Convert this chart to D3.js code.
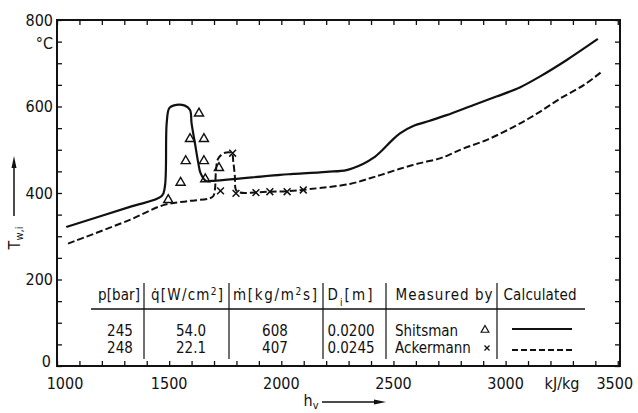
<!DOCTYPE html>
<html>
<head>
<meta charset="utf-8">
<script src="https://cdn.jsdelivr.net/npm/d3@7"></script>
<style>
  html, body { margin: 0; padding: 0; background: #fff; }
  svg { display: block; }
  text { font-family: "Liberation Sans Narrow", "DejaVu Sans Condensed", "Liberation Sans", sans-serif; fill: #111; }
</style>
</head>
<body>
<svg id="chart" width="638" height="413"></svg>
<script>
// Calculated inner wall temperature, Shitsman conditions (solid line)
const solidHv = [1045, 1325, 1467, 1481, 1489, 1500, 1518, 1570, 1593, 1600, 1615, 1630, 1640, 1664, 1689, 1994, 2053, 2202, 2291, 2364, 2410, 2450, 2490, 2529, 2588, 2662, 2737, 2855, 2959, 3063, 3152, 3271, 3408];
const solidT  = [ 322,  368,  393,  415,  561,  596,  602,  602,  592,  561,  515,  469,  446,  428,  428,  442,  444,  449,  453,  467,  481,  499,  520,  538,  555,  567,  580,  603,  623,  644,  669,  707,  755];

// Calculated inner wall temperature, Ackermann conditions (dashed line)
const dashedHv = [1049, 1325, 1474, 1580, 1682, 1697, 1704, 1709, 1719, 1749, 1779, 1786, 1793, 1798, 1816, 1882, 1949, 2026, 2127, 2306, 2395, 2445, 2529, 2618, 2707, 2760, 2812, 2917, 3036, 3141, 3245, 3350, 3432];
const dashedT  = [ 283,  338,  372,  381,  388,  393,  407,  453,  480,  493,  492,  472,  438,  407,  401,  401,  403,  404,  409,  421,  434,  442,  456,  469,  480,  491,  503,  523,  553,  584,  619,  650,  682];

// Measurements
const shitsmanHv = [1496, 1551, 1574, 1593, 1633, 1655, 1655, 1661, 1722];
const shitsmanT  = [ 384,  424,  474,  525,  584,  525,  474,  432,  458];
const ackermannHv = [1729, 1783, 1798, 1887, 1949, 2026, 2098];
const ackermannT  = [ 405,  492,  399,  401,  403,  403,  407];

// Axis ticks
const xTickLabels = [1000, 1500, 2000, 2500, 3000, 3500];
const yTickLabels = [0, 200, 400, 600, 800];

// Table of test conditions
const pressure   = ["245", "248"];
const heatFlux   = ["54.0", "22.1"];
const massFlux   = ["608", "407"];
const diameter   = ["0.0200", "0.0245"];
const measuredBy = ["Shitsman", "Ackermann"];

const svg = d3.select("#chart");
const ink = "#111";

const x = d3.scaleLinear().domain([1000, 3510]).range([57, 620]);
const y = d3.scaleLinear().domain([0, 800]).range([366, 20]);

// ---- frame and inward ticks ----
const tickStyle = g => {
  g.select(".domain").remove();
  g.selectAll(".tick line").attr("stroke", ink).attr("stroke-width", 1.3);
  g.selectAll(".tick text").remove();
};
const xMinor = d3.range(1000, 3501, 100);
const yMinor = d3.range(0, 801, 50);

svg.append("g").attr("transform", `translate(0,${y(0)})`)
  .call(d3.axisBottom(x).tickValues(xMinor).tickSize(-5)).call(tickStyle);
svg.append("g").attr("transform", `translate(0,${y(800)})`)
  .call(d3.axisTop(x).tickValues(xMinor).tickSize(-5)).call(tickStyle);
svg.append("g").attr("transform", `translate(${x(1000)},0)`)
  .call(d3.axisLeft(y).tickValues(yMinor).tickSize(-5)).call(tickStyle);
svg.append("g").attr("transform", `translate(${x(3510)},0)`)
  .call(d3.axisRight(y).tickValues(yMinor).tickSize(-5)).call(tickStyle);

svg.append("rect")
  .attr("x", x(1000)).attr("y", y(800))
  .attr("width", x(3510) - x(1000)).attr("height", y(0) - y(800))
  .attr("fill", "none").attr("stroke", ink).attr("stroke-width", 2);

// ---- tick labels ----
svg.append("g").selectAll("text").data(xTickLabels).join("text")
  .attr("x", (d, i) => x(d) + (i === 0 ? 8 : (d === 3500 ? -3 : 0)))
  .attr("y", 389)
  .attr("text-anchor", "middle")
  .attr("font-size", 16)
  .text(d => d);

svg.append("g").selectAll("text").data(yTickLabels).join("text")
  .attr("x", d => d === 0 ? 51 : 53)
  .attr("y", d => y(d) - (d === 0 ? 5 : 0))
  .attr("dy", "0.36em")
  .attr("text-anchor", "end")
  .attr("font-size", 16)
  .text(d => d);

svg.append("text").attr("x", 53).attr("y", 49).attr("text-anchor", "end")
  .attr("font-size", 16).text("°C");
svg.append("text").attr("x", 562).attr("y", 389).attr("text-anchor", "middle")
  .attr("font-size", 16).text("kJ/kg");

// ---- axis titles with arrows ----
const yTitle = svg.append("text")
  .attr("transform", "translate(20,238) rotate(-90)")
  .attr("text-anchor", "middle").attr("font-size", 16);
yTitle.append("tspan").text("T");
yTitle.append("tspan").attr("font-size", 11).attr("dy", 3).text("w,i");
svg.append("line").attr("x1", 14).attr("y1", 216).attr("x2", 14).attr("y2", 164)
  .attr("stroke", ink).attr("stroke-width", 1.5);
svg.append("path").attr("d", "M14,156 L11.5,168 L16.5,168 Z").attr("fill", ink);

const xTitle = svg.append("text").attr("x", 311).attr("y", 406)
  .attr("text-anchor", "middle").attr("font-size", 16);
xTitle.append("tspan").text("h");
xTitle.append("tspan").attr("font-size", 11).attr("dy", 3).text("v");
svg.append("line").attr("x1", 322).attr("y1", 402).attr("x2", 378).attr("y2", 402)
  .attr("stroke", ink).attr("stroke-width", 1.5);
svg.append("path").attr("d", "M386,402 L374,399.5 L374,404.5 Z").attr("fill", ink);

// ---- curves ----
const lineGen = d3.line()
  .x(d => x(d[0])).y(d => y(d[1]))
  .curve(d3.curveCatmullRom.alpha(0.5));

svg.append("path")
  .attr("d", lineGen(d3.zip(solidHv, solidT)))
  .attr("fill", "none").attr("stroke", ink).attr("stroke-width", 2.2)
  .attr("stroke-linejoin", "round").attr("stroke-linecap", "round");

svg.append("path")
  .attr("d", lineGen(d3.zip(dashedHv, dashedT)))
  .attr("fill", "none").attr("stroke", ink).attr("stroke-width", 2)
  .attr("stroke-dasharray", "7,3");

// ---- measured points ----
const tri = d3.symbol(d3.symbolTriangle, 36);
const cross = d3.symbol(d3.symbolTimes, 32);

svg.append("g").selectAll("path").data(d3.zip(shitsmanHv, shitsmanT)).join("path")
  .attr("transform", d => `translate(${x(d[0])},${y(d[1])})`)
  .attr("d", tri).attr("fill", "none").attr("stroke", ink).attr("stroke-width", 1.4);

svg.append("g").selectAll("path").data(d3.zip(ackermannHv, ackermannT)).join("path")
  .attr("transform", d => `translate(${x(d[0])},${y(d[1])})`)
  .attr("d", cross).attr("fill", "none").attr("stroke", ink).attr("stroke-width", 1.5);

// ---- conditions table ----
const table = svg.append("g");
const headY = 300, row1Y = 336, row2Y = 353;

table.append("line").attr("x1", 91).attr("x2", 585).attr("y1", 309).attr("y2", 309)
  .attr("stroke", ink).attr("stroke-width", 1.4);
[144, 229, 323, 386, 497].forEach(vx => {
  table.append("line").attr("x1", vx).attr("x2", vx).attr("y1", 283).attr("y2", 359)
    .attr("stroke", ink).attr("stroke-width", 1.2);
});

const header = (cx, width, parts) => {
  const t = table.append("text").attr("x", cx).attr("y", headY)
    .attr("text-anchor", "middle").attr("font-size", 15);
  parts.forEach(p => {
    const s = t.append("tspan").text(p.t);
    if (p.sup) s.attr("font-size", 10).attr("baseline-shift", "super");
    if (p.sub) s.attr("font-size", 10).attr("baseline-shift", "sub");
  });
  if (width) t.attr("textLength", width).attr("lengthAdjust", "spacing");
  return t;
};
header(119, 42, [{t: "p[bar]"}]);
header(187, 72, [{t: "q\u0307[W/cm"}, {t: "2", sup: true}, {t: "]"}]);
header(275, 84, [{t: "\u1E41[kg/m"}, {t: "2", sup: true}, {t: "s]"}]);
header(350, 45, [{t: "D"}, {t: "i", sub: true}, {t: "[m]"}]);
header(444, 97, [{t: "Measured by"}]);
header(540, 73, [{t: "Calculated"}]);

const cell = (cx, cy, txt, anchor) => table.append("text")
  .attr("x", cx).attr("y", cy).attr("text-anchor", anchor || "middle")
  .attr("font-size", 15).text(txt);

[row1Y, row2Y].forEach((ry, i) => {
  cell(120, ry, pressure[i]);
  cell(191, ry, heatFlux[i]);
  cell(275, ry, massFlux[i]);
  cell(351, ry, diameter[i]);
  cell(395, ry, measuredBy[i], "start");
});

// legend markers and line styles inside the table
table.append("path").attr("transform", `translate(485,${row1Y - 6})`)
  .attr("d", d3.symbol(d3.symbolTriangle, 26)).attr("fill", "none")
  .attr("stroke", ink).attr("stroke-width", 1.2);
table.append("path").attr("transform", `translate(487,${row2Y - 5})`)
  .attr("d", d3.symbol(d3.symbolTimes, 18)).attr("fill", "none")
  .attr("stroke", ink).attr("stroke-width", 1.3);
table.append("line").attr("x1", 512).attr("x2", 572).attr("y1", row1Y - 7).attr("y2", row1Y - 7)
  .attr("stroke", ink).attr("stroke-width", 2);
table.append("line").attr("x1", 512).attr("x2", 572).attr("y1", row2Y - 3).attr("y2", row2Y - 3)
  .attr("stroke", ink).attr("stroke-width", 2).attr("stroke-dasharray", "6,3");
</script>
</body>
</html>
